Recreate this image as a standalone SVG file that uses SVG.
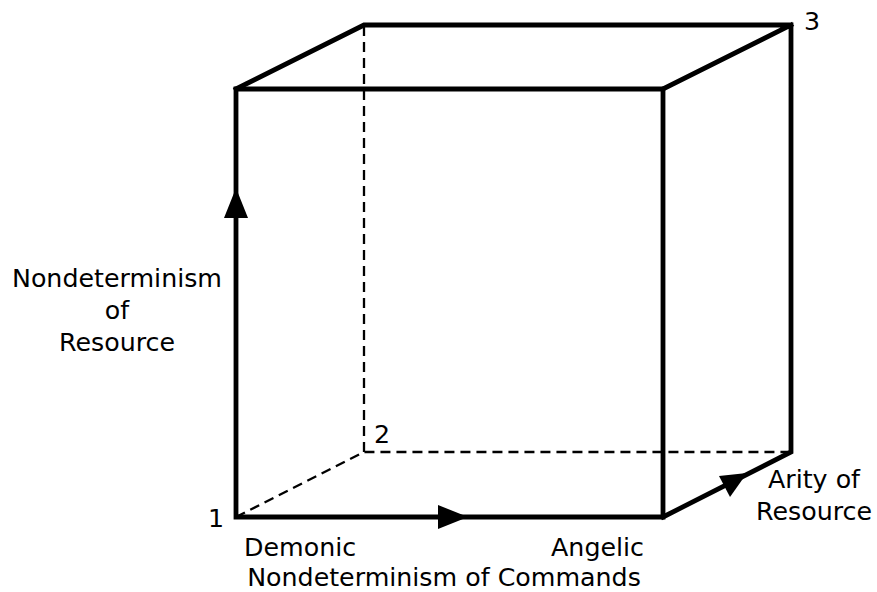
<svg xmlns="http://www.w3.org/2000/svg" width="877" height="592" viewBox="0 0 877 592">
<style>
.e{stroke:#000;stroke-width:4.8;fill:none;stroke-linejoin:miter;stroke-linecap:square}
.d{stroke:#000;stroke-width:2.3;fill:none;stroke-dasharray:10,6}
.t{font-family:"DejaVu Sans",sans-serif;font-size:25.3px;fill:#000}
.a{fill:#000}
</style>
<rect width="877" height="592" fill="#fff"/>
<g id="connectors">
<path class="d" d="M236,517 L364,452 L791,452 M364,452 L364,25"/>
<path class="e" d="M236,517 L236,89 L663,89 L663,517 Z"/>
<path class="e" d="M236,89 L364,25 L791,25 L791,452 L663,517 M663,89 L791,25"/>
<polygon class="a" points="236,188 248,218 224,218"/>
<polygon class="a" points="468,517 438,505 438,529"/>
<polygon class="a" points="747,473 730,497 719,476"/>
</g>
<g id="labels">
<text class="t" x="117" y="287" text-anchor="middle">Nondeterminism</text>
<text class="t" x="117" y="319" text-anchor="middle">of</text>
<text class="t" x="117" y="351" text-anchor="middle">Resource</text>
<text class="t" x="244" y="556">Demonic</text>
<text class="t" x="644" y="556" text-anchor="end">Angelic</text>
<text class="t" x="444" y="586" text-anchor="middle">Nondeterminism of Commands</text>
<text class="t" x="814" y="488" text-anchor="middle">Arity of</text>
<text class="t" x="814" y="520" text-anchor="middle">Resource</text>
<text class="t" x="208" y="527">1</text>
<text class="t" x="374" y="443">2</text>
<text class="t" x="804" y="30">3</text>
</g>
</svg>
